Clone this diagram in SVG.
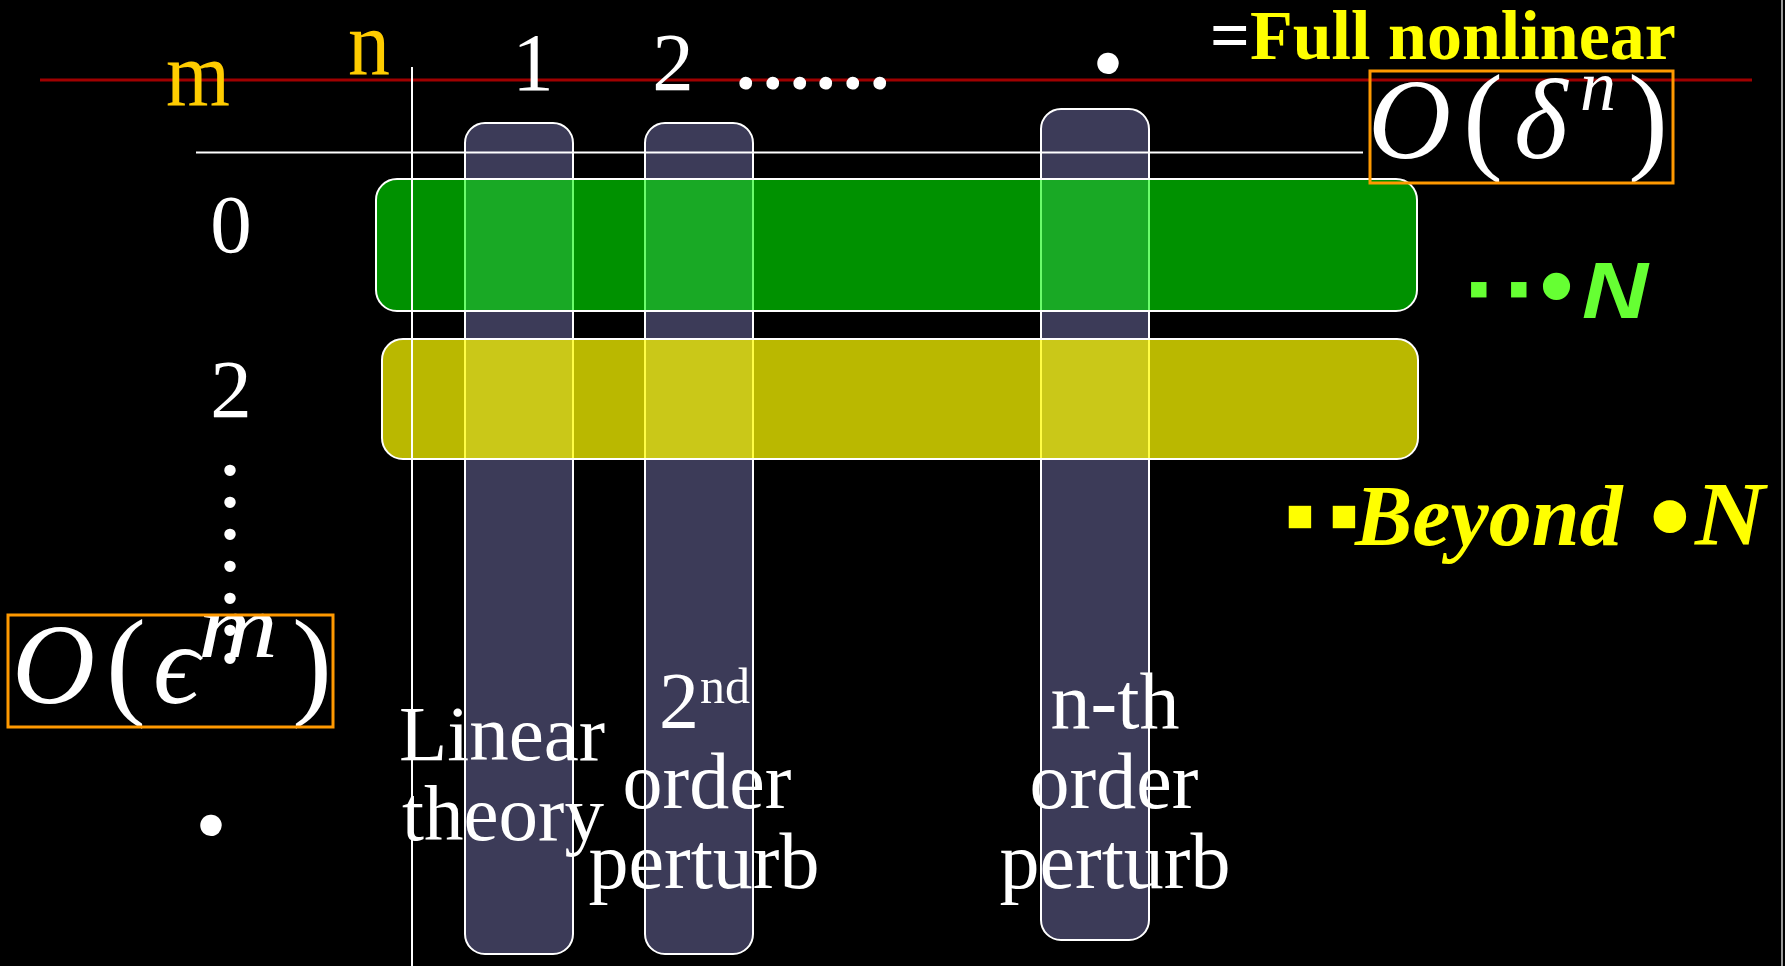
<svg xmlns="http://www.w3.org/2000/svg" width="1785" height="966" viewBox="0 0 1785 966">
  <style>
    .serif { font-family: "Liberation Serif", "Times New Roman", serif; }
    .sans { font-family: "Liberation Sans", Arial, sans-serif; }
    .white { fill: #ffffff; }
    .gold { fill: #FFCC00; }
    .col { fill: #3C3B58; stroke: #ffffff; stroke-width: 2; }
    .bar { stroke: #ffffff; stroke-width: 2; }
    .box { fill: none; stroke: #FF9900; stroke-width: 3; }
    .axis { stroke: #ffffff; stroke-width: 2; }
    .lbl { font-size: 80px; }
    .math { font-family: "Liberation Serif", "DejaVu Serif", serif; fill: #ffffff; }
    .it { font-style: italic; }
  </style>

  <rect x="0" y="0" width="1785" height="966" fill="#000000"/>

  <!-- reference level line and slide edge -->
  <line x1="40" y1="80" x2="1752" y2="80" stroke="#A00000" stroke-width="3"/>
  <line x1="1782" y1="0" x2="1782" y2="966" stroke="#9a9a9a" stroke-width="2"/>

  <!-- perturbation-order columns (n) -->
  <g id="col-linear"><rect class="col" x="465" y="123" width="108" height="831" rx="20" ry="20"/></g>
  <g id="col-2nd"><rect class="col" x="645" y="123" width="108" height="831" rx="20" ry="20"/></g>
  <g id="col-nth"><rect class="col" x="1041" y="109" width="108" height="831" rx="20" ry="20"/></g>

  <!-- expansion-order bars (m) -->
  <g id="bar-m0"><rect class="bar" x="376" y="179" width="1041" height="132" rx="21" ry="21" fill="#00FA00" fill-opacity="0.58"/></g>
  <g id="bar-m2"><rect class="bar" x="382" y="339" width="1036" height="120" rx="21" ry="21" fill="#FFFC00" fill-opacity="0.73"/></g>

  <!-- axes -->
  <g id="axes">
    <line class="axis" x1="412" y1="67" x2="412" y2="966"/>
    <line class="axis" x1="196" y1="152.5" x2="1363" y2="152.5"/>
  </g>

  <!-- axis headers -->
  <g id="header-m"><text class="serif gold" x="198" y="105" font-size="94" text-anchor="middle" textLength="64" lengthAdjust="spacingAndGlyphs">m</text></g>
  <g id="header-n"><text class="serif gold" x="369" y="75" font-size="94" text-anchor="middle" textLength="42" lengthAdjust="spacingAndGlyphs">n</text></g>

  <g id="n-labels" class="serif white" font-size="83" text-anchor="middle">
    <text x="533" y="90">1</text>
    <text x="673" y="90">2</text>
  </g>
  <g id="n-dots" class="serif white" font-size="78" font-weight="bold">
    <text x="736 763 790 816 843 870" y="89">......</text>
    <text x="1091.5" y="72" font-size="132">.</text>
  </g>

  <g id="m-labels" class="serif white" font-size="83" text-anchor="middle">
    <text x="231" y="252">0</text>
    <text x="231" y="417">2</text>
  </g>

  <!-- O(epsilon^m) -->
  <g id="order-eps">
    <text class="math" y="703" font-size="115">
      <tspan class="it" x="12">O</tspan><tspan x="106" font-size="120">(</tspan><tspan class="it" x="153">ϵ</tspan><tspan class="it" x="198" y="657" font-size="90" textLength="80" lengthAdjust="spacingAndGlyphs">m</tspan><tspan x="292" y="703" font-size="120">)</tspan>
    </text>
    <rect class="box" x="8" y="615" width="325" height="112"/>
  </g>

  <g id="m-dots" class="serif white" font-size="96">
    <text x="218 218 218 218 218 218 218" y="475 507 539 571 603 635 663">.......</text>
    <text x="194.5" y="834" font-size="132" font-weight="bold">.</text>
  </g>

  <!-- O(delta^n) -->
  <g id="order-delta">
    <text class="math" y="158" font-size="115">
      <tspan class="it" x="1368">O</tspan><tspan x="1463" font-size="120">(</tspan><tspan class="it" x="1514">δ</tspan><tspan class="it" x="1580" y="110" font-size="72">n</tspan><tspan x="1628" y="158" font-size="120">)</tspan>
    </text>
    <rect class="box" x="1370" y="71" width="303" height="112"/>
  </g>

  <g id="full-nonlinear">
    <text class="serif" x="1210" y="59" font-size="70" font-weight="bold"><tspan fill="#ffffff">=</tspan><tspan fill="#FFFF00">Full nonlinear</tspan></text>
  </g>

  <!-- row annotations -->
  <g id="note-N">
    <text class="sans" fill="#66FF33"><tspan x="1468" y="309" font-size="62">▪</tspan><tspan x="1508" y="309" font-size="62">▪</tspan><tspan x="1539" y="320" font-size="100">•</tspan><tspan x="1582" y="318" font-size="79" font-weight="bold" font-style="italic" textLength="66" lengthAdjust="spacingAndGlyphs">N</tspan></text>
  </g>
  <g id="note-beyond">
    <text class="serif" fill="#FFFF00" font-weight="bold" font-style="italic" font-size="86"><tspan x="1284" y="545" font-size="90">▪</tspan><tspan x="1328" y="545" font-size="90">▪</tspan><tspan x="1355" y="545">Beyond</tspan><tspan x="1648" y="557" font-size="120">•</tspan><tspan x="1695" y="545" font-size="90" textLength="70" lengthAdjust="spacingAndGlyphs">N</tspan></text>
  </g>

  <!-- column captions -->
  <g id="cap-linear" class="serif white lbl" text-anchor="middle">
    <text x="502" y="760" font-size="79">Linear</text>
    <text x="503" y="840" font-size="79">theory</text>
  </g>
  <g id="cap-2nd" class="serif white lbl">
    <text x="659" y="728">2<tspan x="700" y="703" font-size="50">nd</tspan></text>
    <text x="707" y="808" text-anchor="middle">order</text>
    <text x="704" y="888" text-anchor="middle">perturb</text>
  </g>
  <g id="cap-nth" class="serif white lbl" text-anchor="middle">
    <text x="1115" y="728">n-th</text>
    <text x="1114" y="808">order</text>
    <text x="1115" y="888">perturb</text>
  </g>
</svg>
